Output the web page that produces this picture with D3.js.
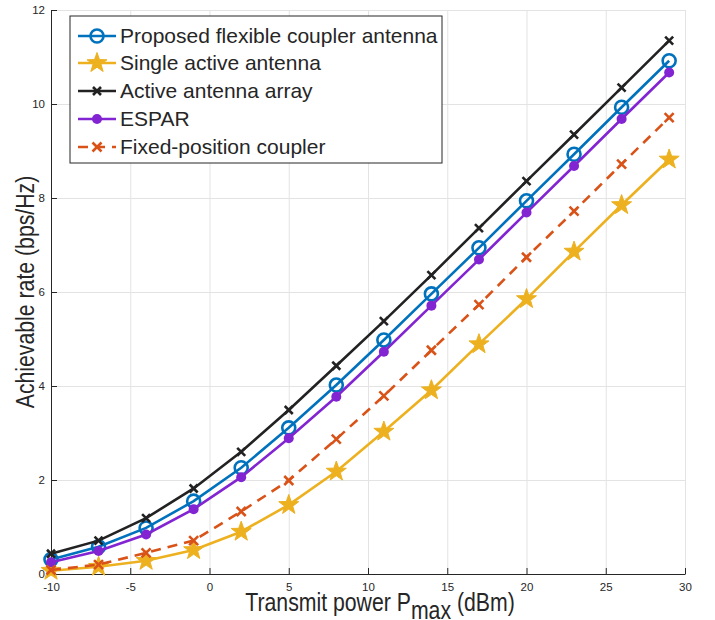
<!DOCTYPE html>
<html>
<head>
<meta charset="utf-8">
<script src="https://cdn.jsdelivr.net/npm/d3@7"></script>
<style>
  body { margin: 0; background: #fff; }
  svg { font-family: 'Liberation Sans', Arial, sans-serif; }
</style>
</head>
<body>
<svg id="chart" width="715" height="620"></svg>
<script>
// transmit power (dBm)
const power = [-10, -7, -4, -1, 2, 5, 8, 11, 14, 17, 20, 23, 26, 29];

const proposed = [0.31, 0.58, 0.98, 1.55, 2.26, 3.11, 4.02, 4.98, 5.96, 6.94, 7.94, 8.93, 9.93, 10.92];
const single = [0.07, 0.155, 0.28, 0.51, 0.90, 1.47, 2.18, 3.03, 3.91, 4.89, 5.85, 6.86, 7.85, 8.82];
const array = [0.43, 0.71, 1.19, 1.82, 2.60, 3.49, 4.43, 5.38, 6.36, 7.36, 8.36, 9.35, 10.35, 11.35];
const espar = [0.25, 0.49, 0.84, 1.38, 2.06, 2.89, 3.77, 4.73, 5.71, 6.69, 7.69, 8.68, 9.68, 10.67];
const fixed = [0.085, 0.20, 0.45, 0.71, 1.33, 1.99, 2.87, 3.79, 4.76, 5.73, 6.74, 7.72, 8.72, 9.71];

const seriesNames = ['Proposed flexible coupler antenna', 'Single active antenna',
  'Active antenna array', 'ESPAR', 'Fixed-position coupler'];
const xTicks = [-10, -5, 0, 5, 10, 15, 20, 25, 30];
const yTicks = [0, 2, 4, 6, 8, 10, 12];

const series = [
  { name: seriesNames[0], values: proposed, color: '#0072BD', marker: 'circle', dash: null },
  { name: seriesNames[1], values: single, color: '#EDB120', marker: 'star', dash: null },
  { name: seriesNames[2], values: array, color: '#222222', marker: 'x', dash: null },
  { name: seriesNames[3], values: espar, color: '#8224D2', marker: 'dot', dash: null },
  { name: seriesNames[4], values: fixed, color: '#D95319', marker: 'xbig', dash: '10,7' }
];

const svg = d3.select('#chart');
const plotL = 51, plotR = 685, plotT = 10, plotB = 574;

const x = d3.scaleLinear().domain([-10, 30]).range([plotL, plotR]);
const y = d3.scaleLinear().domain([0, 12]).range([plotB, plotT]);

// grid
svg.append('g')
  .attr('transform', 'translate(0,' + plotB + ')')
  .call(d3.axisBottom(x).tickValues(xTicks).tickSize(-(plotB - plotT)).tickFormat(''))
  .call(g => g.select('.domain').remove())
  .selectAll('line').attr('stroke', '#e3e3e3').attr('stroke-width', 1);

svg.append('g')
  .attr('transform', 'translate(' + plotL + ',0)')
  .call(d3.axisLeft(y).tickValues(yTicks).tickSize(-(plotR - plotL)).tickFormat(''))
  .call(g => g.select('.domain').remove())
  .selectAll('line').attr('stroke', '#e3e3e3').attr('stroke-width', 1);

// axes (plain hyphen for negatives, like the original)
const xAxis = svg.append('g')
  .attr('transform', 'translate(0,' + plotB + ')')
  .call(d3.axisBottom(x).tickValues(xTicks).tickFormat(d => String(d))
    .tickSize(-6).tickSizeOuter(0).tickPadding(9));
const yAxis = svg.append('g')
  .attr('transform', 'translate(' + plotL + ',0)')
  .call(d3.axisLeft(y).tickValues(yTicks).tickFormat(d => String(d))
    .tickSize(-6).tickSizeOuter(0).tickPadding(6));

[xAxis, yAxis].forEach(ax => {
  ax.attr('font-family', null);
  ax.select('.domain').attr('stroke', '#262626');
  ax.selectAll('.tick line').attr('stroke', '#262626');
  ax.selectAll('text').attr('fill', '#262626').style('font-size', '11.5px');
});

// markers
const starPath = (r) => {
  const pts = [];
  for (let i = 0; i < 10; i++) {
    const rr = i % 2 === 0 ? r : r * 0.4;
    const a = -Math.PI / 2 + i * Math.PI / 5;
    pts.push([rr * Math.cos(a), rr * Math.sin(a)]);
  }
  return 'M' + pts.map(p => p.join(',')).join('L') + 'Z';
};

function drawMarker(g, s) {
  if (s.marker === 'circle') {
    g.append('circle').attr('r', 6.5).attr('fill', 'none')
      .attr('stroke', s.color).attr('stroke-width', 2.6);
  } else if (s.marker === 'dot') {
    g.append('circle').attr('r', 5).attr('fill', s.color);
  } else if (s.marker === 'star') {
    g.append('path').attr('d', starPath(10.5)).attr('fill', s.color)
      .attr('stroke', s.color).attr('stroke-width', 1);
  } else {
    const r = s.marker === 'xbig' ? 4.5 : 4;
    g.append('path').attr('d', `M${-r},${-r}L${r},${r}M${-r},${r}L${r},${-r}`)
      .attr('stroke', s.color).attr('stroke-width', 2.6).attr('fill', 'none');
  }
}

const line = d3.line().x(d => x(d[0])).y(d => y(d[1]));

series.forEach(s => {
  const pts = power.map((p, i) => [p, s.values[i]]);
  svg.append('path')
    .datum(pts)
    .attr('d', line)
    .attr('fill', 'none')
    .attr('stroke', s.color)
    .attr('stroke-width', 2.6)
    .attr('stroke-dasharray', s.dash);
  svg.append('g').selectAll('g')
    .data(pts)
    .enter()
    .append('g')
    .attr('transform', d => 'translate(' + x(d[0]) + ',' + y(d[1]) + ')')
    .each(function () { drawMarker(d3.select(this), s); });
});

// legend
const legend = svg.append('g');
legend.append('rect')
  .attr('x', 70).attr('y', 16).attr('width', 372).attr('height', 147)
  .attr('fill', '#fff').attr('stroke', '#262626').attr('stroke-width', 1);

const rowY = [36, 63, 91, 119, 147];
series.forEach((s, i) => {
  const row = legend.append('g').attr('transform', 'translate(0,' + rowY[i] + ')');
  row.append('line')
    .attr('x1', 78).attr('x2', 116)
    .attr('stroke', s.color).attr('stroke-width', 2.6)
    .attr('stroke-dasharray', s.dash);
  drawMarker(row.append('g').attr('transform', 'translate(97,0)'), s);
  row.append('text')
    .attr('x', 120).attr('y', 0).attr('dy', '0.35em')
    .attr('fill', '#262626')
    .style('font-size', '21px')
    .text(s.name);
});

// axis labels (the original font is narrower, so squeeze horizontally)
svg.append('g')
  .attr('transform', 'translate(380,611) scale(0.85,1)')
  .append('text')
  .attr('text-anchor', 'middle')
  .attr('fill', '#262626')
  .style('font-size', '25px')
  .call(t => {
    t.append('tspan').text('Transmit power P');
    t.append('tspan').attr('dy', 8).text('max');
    t.append('tspan').attr('dy', -8).text(' (dBm)');
  });

svg.append('g')
  .attr('transform', 'translate(34,292) rotate(-90) scale(0.85,1)')
  .append('text')
  .attr('text-anchor', 'middle')
  .attr('fill', '#262626')
  .style('font-size', '25px')
  .text('Achievable rate (bps/Hz)');
</script>
</body>
</html>
